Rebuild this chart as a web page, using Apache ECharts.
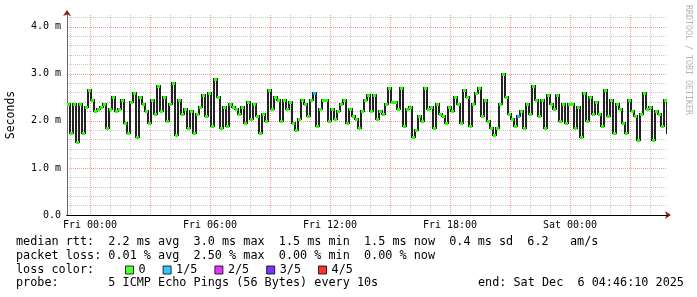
<!DOCTYPE html>
<html><head><meta charset="utf-8">
<script src="https://cdn.jsdelivr.net/npm/echarts@6/dist/echarts.min.js"></script>
<style>html,body{margin:0;padding:0;background:#fff}#c{width:697px;height:297px}</style>
</head><body><div id="c"></div>
<script>
// ---- data (milliseconds), one sample every 9 minutes, starting Thu 22:51 ----
const medianRtt = [
  2.35,1.75,2.35,1.55,2.35,1.75,2.3,2.65,2.45,2.2,2.25,2.3,2.35,1.85,2.25,2.5,2.2,2.25,2.45,1.95,
  1.75,2.4,2.6,1.65,2.5,2.35,2.2,1.95,2.45,2.15,2.75,2.2,2.5,2.0,2.35,2.8,1.7,2.45,2.15,2.25,
  1.85,2.2,1.75,2.15,2.3,2.55,2.1,2.6,1.9,2.9,2.5,1.85,2.3,1.9,2.35,2.3,2.25,2.15,2.3,1.95,
  2.4,2.05,2.35,2.1,1.75,2.15,2.0,2.65,2.25,2.5,2.45,2.0,2.45,2.25,2.4,1.95,1.8,2.05,2.45,2.35,
  2.1,2.45,2.6,1.9,2.25,2.45,2.45,2.0,2.25,2.05,2.2,2.35,2.45,1.95,2.25,2.1,2.05,1.85,2.2,2.45,
  2.55,2.2,2.55,2.05,2.2,2.15,2.35,2.7,2.4,2.4,2.25,2.7,1.9,2.25,2.3,1.65,1.8,2.1,2.0,2.7,
  2.25,2.3,1.85,2.35,2.15,2.1,1.95,2.3,2.2,2.5,2.35,1.95,2.65,2.5,1.9,2.35,2.6,2.7,2.1,2.45,
  2.0,1.85,1.7,1.85,2.35,3.0,2.5,2.15,2.05,1.9,2.1,2.2,1.85,2.35,2.15,2.75,2.45,2.1,2.45,1.85,
  2.55,2.35,2.25,2.55,2.0,2.35,1.95,2.35,2.35,1.85,2.3,1.65,2.6,2.0,2.5,2.15,2.4,2.15,1.9,2.65,
  2.1,2.45,1.75,2.35,2.25,1.95,1.75,2.45,2.2,2.1,1.6,2.15,2.6,2.25,2.3,1.6,2.2,2.15,1.9,2.45,
  1.75
];
const startHour = -1.15;      // hours relative to Fri 00:00
const stepHour = 0.15;        // 9 minutes
const lossAt = [[82, 1], [150, 1]];   // [sample index, lost pings]
const lossNames = ['0', '1/5', '2/5', '3/5', '4/5'];
const lossColors = ['#26ff00', '#00b8ff', '#dd00ff', '#5e00ff', '#ff0000'];
const xLabelHours = [0, 6, 12, 18, 24];
const xLabelTexts = ['Fri 00:00', 'Fri 06:00', 'Fri 12:00', 'Fri 18:00', 'Sat 00:00'];
const yLabelTexts = ['0.0', '1.0 m', '2.0 m', '3.0 m', '4.0 m'];
const gridHours = [-1,0,1,2,3,4,5,6,7,8,9,10,11,12,13,14,15,16,17,18,19,20,21,22,23,24,25,26,27,28];
const statLine1 = 'median rtt:  2.2 ms avg  3.0 ms max  1.5 ms min  1.5 ms now  0.4 ms sd  6.2   am/s';
const statLine2 = 'packet loss: 0.01 % avg  2.50 % max  0.00 % min  0.00 % now';
const statLine3 = 'loss color:';
const statLine4 = 'probe:       5 ICMP Echo Pings (56 Bytes) every 10s';
const endText = 'end: Sat Dec  6 04:46:10 2025';
const watermark = 'RRDTOOL / TOBI OETIKER';

// ---- chart ----
const MONO = '"DejaVu Sans Mono", monospace';
const xMin = -1.15, xMax = 28.85, yMin = 0, yMax = 4.25;
const MAJOR = '#f09a9a', MINOR = '#c8c8c8', ARROW = '#8b1a1a';
const lossMap = {};
lossAt.forEach(([i, l]) => { lossMap[i] = l; });
const medianData = medianRtt.map((v, i) => [startHour + stepHour * i, v, i > 0 ? medianRtt[i - 1] : v, lossMap[i] || 0]);

const chart = echarts.init(document.getElementById('c'), null, {renderer: 'canvas'});
const option = {
  backgroundColor: '#fff',
  animation: false,
  grid: {left: 67, top: 15, width: 600, height: 200, containLabel: false, outerBoundsMode: 'none'},
  xAxis: [{
    type: 'value', min: xMin, max: xMax, position: 'bottom', z: 3,
    axisLine: {show: true, onZero: false, lineStyle: {color: '#000', width: 1}},
    axisTick: {show: false},
    splitLine: {show: false},
    axisLabel: {
      customValues: xLabelHours, margin: 5,
      fontFamily: MONO, fontSize: 10, color: '#000',
      formatter: v => { const k = xLabelHours.indexOf(v); return k >= 0 ? xLabelTexts[k] : ''; }
    }
  }, {
    type: 'value', min: xMin, max: xMax, position: 'bottom', z: 2,
    axisLine: {show: true, onZero: false, lineStyle: {color: ARROW, width: 1},
      symbol: ['none', 'arrow'], symbolSize: [6, 6], symbolOffset: [0, 4]},
    axisTick: {show: false}, axisLabel: {show: false}, splitLine: {show: false}
  }],
  yAxis: [{
    type: 'value', min: yMin, max: yMax, interval: 0.2, position: 'left', z: 3,
    name: 'Seconds', nameLocation: 'middle', nameGap: 50,
    nameTextStyle: {fontFamily: MONO, fontSize: 11.5, color: '#000'},
    axisLine: {show: true, onZero: false, lineStyle: {color: '#666', width: 1}},
    axisTick: {show: false},
    axisLabel: {
      margin: 6, fontFamily: MONO, fontSize: 10, color: '#000', showMaxLabel: false,
      formatter: v => { const r = Math.round(v); return Math.abs(v - r) < 1e-6 && r < yLabelTexts.length ? yLabelTexts[r] : ''; }
    },
    splitLine: {show: true, showMaxLine: false,
      lineStyle: {color: [MAJOR, MINOR, MINOR, MINOR, MINOR], width: 1, type: [1, 1]}}
  }, {
    type: 'value', min: yMin, max: yMax, position: 'left', z: 2,
    axisLine: {show: true, onZero: false, lineStyle: {color: ARROW, width: 1},
      symbol: ['none', 'arrow'], symbolSize: [6, 6], symbolOffset: [0, 5]},
    axisTick: {show: false}, axisLabel: {show: false}, splitLine: {show: false}
  }],
  legend: {
    left: 125, top: 264, padding: 0, itemGap: 17, itemWidth: 8, itemHeight: 8,
    icon: 'rect', data: lossNames,
    itemStyle: {borderColor: '#000', borderWidth: 1},
    textStyle: {fontFamily: MONO, fontSize: 11.8, color: '#000'},
    selectedMode: false
  },
  series: [
    {
      type: 'custom', name: 'grid', silent: true, z: 1,
      data: gridHours.map(h => [h, 0]),
      renderItem: (params, api) => {
        const h = api.value(0);
        const top = api.coord([h, yMax]);
        const bot = api.coord([h, yMin]);
        const x = Math.round(top[0]) + 0.5;
        return {type: 'line', shape: {x1: x, y1: top[1], x2: x, y2: bot[1]},
          style: {stroke: (h % 3 === 0) ? MAJOR : MINOR, lineWidth: 1, lineDash: [1, 1]}};
      }
    },
    {
      type: 'custom', name: 'median-risers', silent: true, z: 5, clip: true,
      data: medianData,
      renderItem: (params, api) => {
        const h = api.value(0), v = api.value(1), pv = api.value(2);
        const p = api.coord([h, v]);
        const pp = api.coord([h, pv]);
        const x0 = Math.round(p[0]);
        const ya = Math.round(Math.min(p[1], pp[1]));
        const yb = Math.round(Math.max(p[1], pp[1]));
        return {type: 'rect', shape: {x: x0 - 1, y: ya - 1, width: 2, height: yb - ya + 2}, style: {fill: '#222'}};
      }
    },
    {
      type: 'custom', name: 'median-caps', silent: true, z: 6, clip: true,
      data: medianData,
      renderItem: (params, api) => {
        const h = api.value(0), v = api.value(1), loss = api.value(3);
        const p = api.coord([h, v]);
        const pe = api.coord([h + stepHour, v]);
        const x0 = Math.round(p[0]);
        const x1 = Math.round(pe[0]);
        return {type: 'rect', shape: {x: x0, y: Math.round(p[1]) - 1, width: Math.max(1, x1 - x0), height: 3}, style: {fill: lossColors[loss]}};
      }
    }
  ].concat(lossNames.map((n, i) => ({type: 'scatter', name: n, data: [], itemStyle: {color: lossColors[i]}}))),
  graphic: [
    {type: 'text', x: 16, y: 242, style: {text: statLine1, font: '11.8px ' + MONO, fill: '#000', verticalAlign: 'middle'}},
    {type: 'text', x: 16, y: 255.5, style: {text: statLine2, font: '11.8px ' + MONO, fill: '#000', verticalAlign: 'middle'}},
    {type: 'text', x: 16, y: 269.5, style: {text: statLine3, font: '11.8px ' + MONO, fill: '#000', verticalAlign: 'middle'}},
    {type: 'text', x: 16, y: 283, style: {text: statLine4, font: '11.8px ' + MONO, fill: '#000', verticalAlign: 'middle'}},
    {type: 'text', x: 478, y: 283, style: {text: endText, font: '11.8px ' + MONO, fill: '#000', verticalAlign: 'middle'}},
    {type: 'text', x: 688, y: 5, rotation: -Math.PI / 2,
      style: {text: watermark, font: '8.3px ' + MONO, fill: '#b4b4b4', align: 'left', verticalAlign: 'middle'}}
  ]
};
chart.setOption(option);
</script>
</body></html>
